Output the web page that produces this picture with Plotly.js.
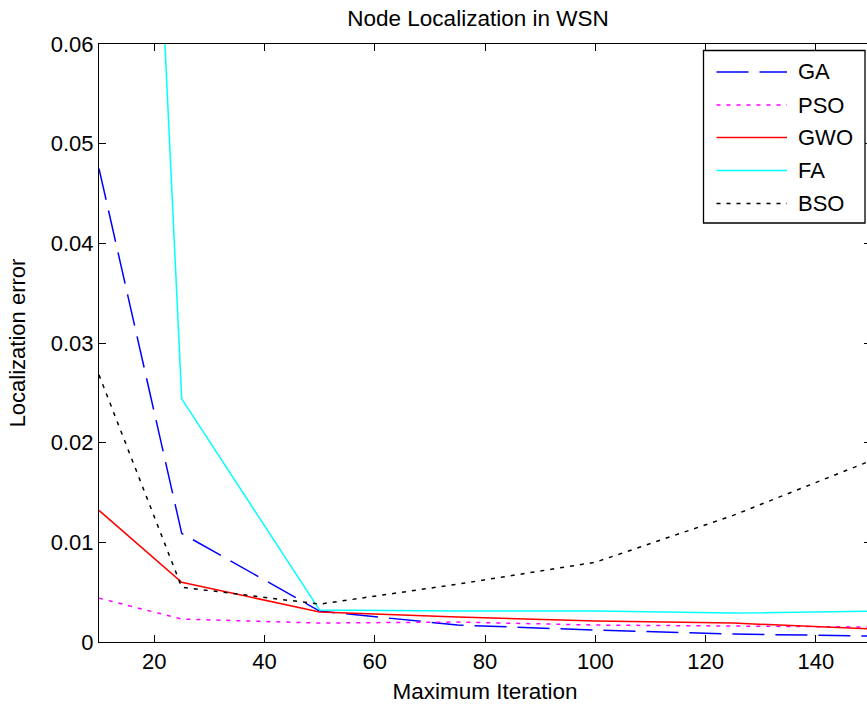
<!DOCTYPE html>
<html>
<head>
<meta charset="utf-8">
<script src="https://cdn.plot.ly/plotly-3.0.1.min.js"></script>
<style>
html, body { margin: 0; padding: 0; overflow: hidden; background: #fff; }
#chart { width: 872px; height: 707px; }
</style>
</head>
<body>
<div id="chart"></div>
<script>
// ---- data ----
var iterations = [10, 25, 50, 75, 100, 125, 150];
var GA  = [0.0475, 0.0109, 0.0031, 0.0017, 0.0012, 0.0008, 0.0006];
var PSO = [0.0044, 0.0023, 0.0019, 0.0020, 0.0017, 0.0016, 0.0015];
var GWO = [0.0132, 0.0060, 0.0030, 0.0025, 0.0021, 0.0019, 0.0013];
var FA  = [0.2000, 0.0244, 0.0032, 0.0031, 0.0031, 0.0029, 0.0031];
var BSO = [0.0268, 0.0055, 0.0038, 0.0058, 0.0080, 0.0127, 0.0182];
var seriesNames = ["GA", "PSO", "GWO", "FA", "BSO"];
var yTickVals = [0, 0.01, 0.02, 0.03, 0.04, 0.05, 0.06];
var xTickVals = [20, 40, 60, 80, 100, 120, 140];

var seriesValues = [GA, PSO, GWO, FA, BSO];
var colors = ["#0000FF", "#FF00FF", "#FF0000", "#00FFFF", "#000000"];
var dashes = ["32px,11px", "4px,6px", "solid", "solid", "4px,6px"];
var LW = 1.5;

var traces = seriesNames.map(function (name, i) {
  return {
    x: iterations, y: seriesValues[i], name: name, type: "scatter", mode: "lines",
    line: { color: colors[i], width: LW, dash: dashes[i] }, showlegend: false
  };
});

// plot area in px: left 99, right 871, top 44, bottom 642
var W = 872, H = 707, L = 99, R = 1, T = 44, B = 65;
var pw = W - L - R, ph = H - T - B;
function px2x(px) { return (px - L) / pw; }
function py2y(py) { return (H - B - py) / ph; }

// manual MATLAB-style legend
var shapes = [{
  type: "rect", xref: "paper", yref: "paper",
  x0: px2x(703.5), x1: px2x(865), y0: py2y(223), y1: py2y(50.5),
  line: { color: "#000", width: 1.3 }, fillcolor: "#fff", layer: "above"
}];
var annotations = [];
var rowY = [72, 105, 137.5, 170.5, 203.5];
seriesNames.forEach(function (name, i) {
  shapes.push({
    type: "line", xref: "paper", yref: "paper",
    x0: px2x(716.5), x1: px2x(787), y0: py2y(rowY[i]), y1: py2y(rowY[i]),
    line: { color: colors[i], width: LW, dash: dashes[i] }, layer: "above"
  });
  annotations.push({
    xref: "paper", yref: "paper", x: px2x(795.5), y: py2y(rowY[i]),
    xanchor: "left", yanchor: "middle", text: name, showarrow: false,
    font: { size: 22, color: "#000", family: "Liberation Sans, Arial, sans-serif" }
  });
});

var axisCommon = {
  showline: true, linecolor: "#000", linewidth: 1, mirror: "ticks",
  ticks: "inside", ticklen: 7, tickwidth: 1, tickcolor: "#000",
  showgrid: false, zeroline: false,
  tickfont: { size: 22, color: "#000" }
};

var layout = {
  width: W, height: H,
  margin: { l: L, r: R, t: T, b: B, autoexpand: false },
  paper_bgcolor: "#fff", plot_bgcolor: "#fff",
  font: { family: "Liberation Sans, Arial, sans-serif", size: 22, color: "#000" },
  title: {
    text: "Node Localization in WSN", font: { size: 22.5, color: "#000" },
    xref: "container", x: 478 / W, xanchor: "center",
    yref: "container", y: 1 - 18.5 / H, yanchor: "middle"
  },
  xaxis: Object.assign({}, axisCommon, {
    range: [10, 150], tickvals: xTickVals, ticktext: xTickVals.map(String),
    title: { text: "Maximum Iteration", font: { size: 22.5, color: "#000" }, standoff: 9 }
  }),
  yaxis: Object.assign({}, axisCommon, {
    range: [0, 0.06], tickvals: yTickVals,
    ticktext: yTickVals.map(function (v) { return v === 0 ? "0" : v.toFixed(2); }),
    title: { text: "Localization error", font: { size: 22, color: "#000" }, standoff: 19 }
  }),
  shapes: shapes,
  annotations: annotations,
  showlegend: false
};

Plotly.newPlot("chart", traces, layout, { displayModeBar: false, staticPlot: true });
</script>
</body>
</html>
